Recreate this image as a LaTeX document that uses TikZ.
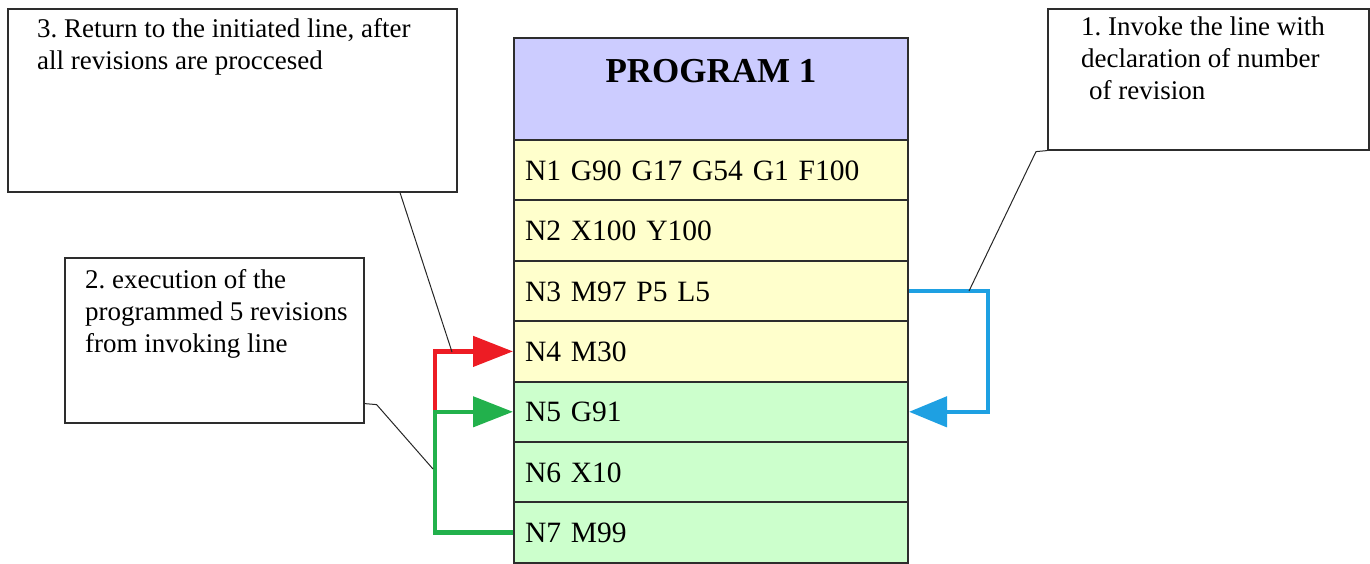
\documentclass[tikz,border=0pt]{standalone}
\usepackage{fontspec}
\setmainfont{Liberation Serif}
\usetikzlibrary{arrows.meta}
\definecolor{headc}{RGB}{204,204,255}
\definecolor{yelc}{RGB}{255,255,204}
\definecolor{grnc}{RGB}{204,255,204}
\definecolor{arrred}{RGB}{237,28,36}
\definecolor{arrgrn}{RGB}{34,177,76}
\definecolor{arrblu}{RGB}{30,160,226}
\definecolor{edgec}{RGB}{45,45,45}
\frenchspacing
\begin{document}
\begin{tikzpicture}[x=1pt,y=-1pt,
 rowbox/.style={draw=edgec, line width=2pt, minimum height=60.4pt, text width=372pt, inner xsep=11pt, inner ysep=0pt, align=left, font=\fontsize{29.5}{36}\selectfont, text height=20pt, text depth=0pt},
 yellowrow/.style={rowbox, fill=yelc},
 greenrow/.style={rowbox, fill=grnc},
 callbox/.style={draw=edgec, line width=1.6pt, fill=white, anchor=north west, inner sep=0pt},
 calltext/.style={anchor=north west, inner sep=0pt, align=left, font=\fontsize{27}{32}\selectfont},
 flow/.style={line width=4.5pt, line join=miter},
 leader/.style={draw=black!85, line width=1pt}
]
\useasboundingbox (0,0) rectangle (1370,563);

% table
\node[draw=edgec, line width=2pt, fill=headc, minimum width=394pt, minimum height=102pt, inner sep=0pt,
      font=\fontsize{35}{40}\selectfont\bfseries, text height=24pt, text depth=38pt] (head) at (711,89) {PROGRAM 1};
\node[yellowrow] (n1) at (711,170.2) {N1 G90 G17 G54 G1 F100};
\node[yellowrow] (n2) at (711,230.6) {N2 X100 Y100};
\node[yellowrow] (n3) at (711,291.0) {N3 M97 P5 L5};
\node[yellowrow] (n4) at (711,351.4) {N4 M30};
\node[greenrow] (n5) at (711,411.8) {N5 G91};
\node[greenrow] (n6) at (711,472.2) {N6 X10};
\node[greenrow] (n7) at (711,532.6) {N7 M99};

% callout boxes
\node[callbox, minimum width=449pt, minimum height=183pt] (b3) at (7,8) {};
\node[calltext] (t3) at (37,18) {3. Return to the initiated line, after\\all revisions are proccesed};
\node[callbox, minimum width=299pt, minimum height=165pt] (b2) at (64,257) {};
\node[calltext] (t2) at (85,269.5) {2. execution of the\\programmed 5 revisions\\from invoking line};
\node[callbox, minimum width=321pt, minimum height=141pt] (b1) at (1047,8) {};
\node[calltext] (t1) at (1081,17) {1. Invoke the line with\\declaration of number\\\hspace*{8pt}of revision};

% flow connectors
\coordinate (gx) at (435,0);
\coordinate (bx) at (988,0);
\draw[flow, arrred, -{Triangle[length=40pt,width=30pt]}] (n5.west -| gx) |- (n4.west);
\draw[flow, arrgrn, -{Triangle[length=40pt,width=30pt]}] (n7.west) -| (n5.west -| gx) -- (n5.west);
\draw[flow, arrblu, -{Triangle[length=38pt,width=30pt]}] (n3.east) -| (n5.east -| bx) -- (n5.east);

% leaders
\coordinate (l3) at (452,352);
\coordinate (l2) at (433,469);
\coordinate (l1) at (969,291);
\draw[leader] ([xshift=393pt]b3.south west) -- (l3);
\draw[leader] ([yshift=20pt]b2.south east) -- ++(12,1) -- (l2);
\draw[leader] (b1.south west) -- ++(-11,1) -- (l1);
\end{tikzpicture}
\end{document}
